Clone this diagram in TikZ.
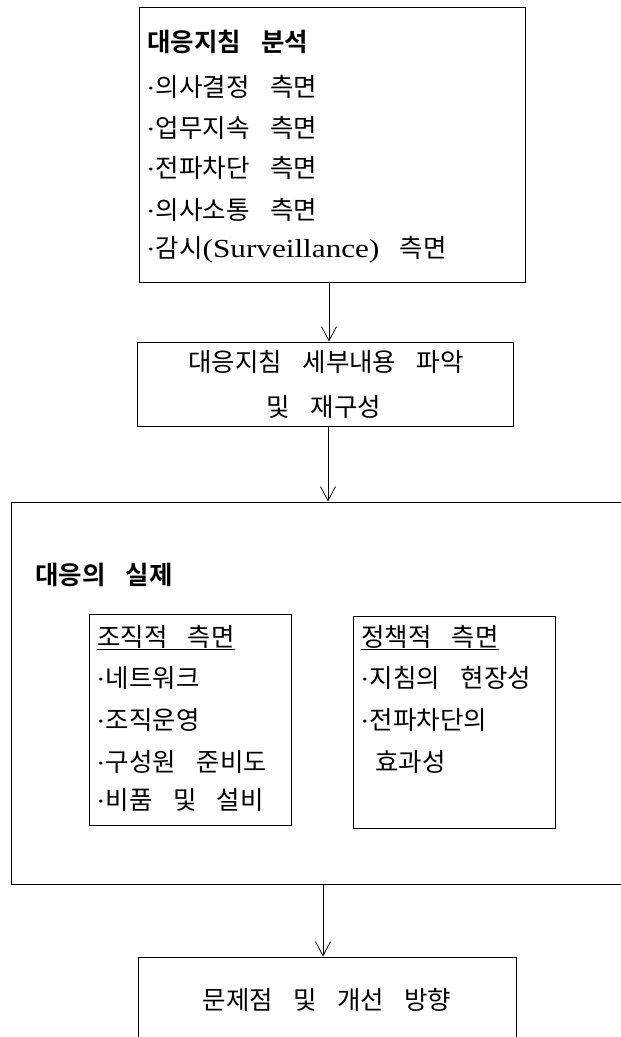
\documentclass[tikz,border=0pt]{standalone}
\usepackage{fontspec}
\newfontfamily\kr[BoldFont={Noto Sans CJK KR Bold}]{Noto Sans CJK KR}
\newfontfamily\lat[FakeStretch=1.2]{Liberation Serif}
\newcommand\kfont{\kr\fontsize{25.5}{30}\selectfont\spaceskip=0.8em\relax}
\newcommand\dt{{\lat\fontsize{24}{30}\selectfont ·}}
\usetikzlibrary{arrows.meta}
\begin{document}
\begin{tikzpicture}[x=1pt,y=-1pt,
  box/.style={draw, line width=1pt, inner sep=0pt},
  txt/.style={anchor=base west, inner sep=0pt, font=\kfont},
  ctxt/.style={anchor=base, inner sep=0pt, font=\kfont},
  arr/.style={-{Straight Barb[length=14pt,width=15pt]}, line width=0.8pt}]
\useasboundingbox (0,0) rectangle (621,1037);
% boxes
\node[box, minimum width=386pt, minimum height=275pt] (b1) at (332,144.5) {};
\node[box, minimum width=376pt, minimum height=84pt] (b2) at (325,384) {};
\node[box, minimum width=639pt, minimum height=382pt] (b3) at (330.5,693) {};
\node[box, minimum width=202pt, minimum height=211pt] (i1) at (190,719.5) {};
\node[box, minimum width=202pt, minimum height=212pt] (i2) at (454,722) {};
\node[box, minimum width=378pt, minimum height=103pt] (b4) at (327,1008.5) {};
% box 1 text
\node[txt] (t1) at (147,51) {\bfseries 대응지침 분석};
\node[txt] (t2) at (146,96) {\dt 의사결정 측면};
\node[txt] (t3) at (146,137) {\dt 업무지속 측면};
\node[txt] (t4) at (146,177) {\dt 전파차단 측면};
\node[txt] (t5) at (146,219) {\dt 의사소통 측면};
\node[txt] (t6) at (146,257) {\dt 감시{\lat\fontsize{26}{30}\selectfont (Surveillance)} 측면};
% box 2 text
\node[ctxt] (u1) at (326,371) {대응지침 세부내용 파악};
\node[ctxt] (u2) at (324,416) {및 재구성};
% big box
\node[txt] (v0) at (35,584) {\bfseries 대응의 실제};
\node[txt] (v1) at (97,646) {\underline{조직적 측면}};
\node[txt] (v2) at (96,687) {\dt 네트워크};
\node[txt] (v3) at (96,729) {\dt 조직운영};
\node[txt] (v4) at (96,771) {\dt 구성원 준비도};
\node[txt] (v5) at (96,809) {\dt 비품 및 설비};
\node[txt] (w1) at (361,646) {\underline{정책적 측면}};
\node[txt] (w2) at (360,687) {\dt 지침의 현장성};
\node[txt] (w3) at (360,729) {\dt 전파차단의};
\node[txt] (w4) at (375,771) {효과성};
% box 4
\node[ctxt] (x1) at (327,1009) {문제점 및 개선 방향};
% arrows
\draw[arr] ([xshift=-3pt]b1.south) -- ([xshift=-3pt]b1.south |- b2.north);
\draw[arr] ([xshift=3pt]b2.south) -- ([xshift=3pt]b2.south |- b3.north);
\draw[arr] ([xshift=-7.5pt]b3.south) -- ([xshift=-7.5pt]b3.south |- b4.north);
\end{tikzpicture}
\end{document}
